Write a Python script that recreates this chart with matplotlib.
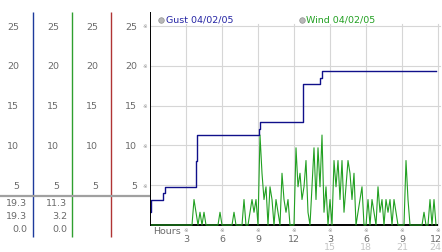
"""Gust / wind speed trace for 04/02/05, drawn in the style of a weather-station display."""

import matplotlib
matplotlib.use("Agg")
import matplotlib.pyplot as plt
import numpy as np

# --- data -----------------------------------------------------------------
gust_hours = [0, 0.05, 1.1, 1.25, 3.85, 3.95, 9.05, 9.15, 12.75, 14.2, 14.3, 23.85]
gust_mph = [1.6, 3.2, 4.0, 4.8, 8.1, 11.3, 12.1, 12.9, 17.7, 18.5, 19.3, 19.3]

# wind speed, one sample every 10 minutes (6 per hour)
wind_mph = [
    0, 0, 0, 0, 0, 0,            # 0h
    0, 0, 0, 0, 0, 0,            # 1h
    0, 0, 0, 0, 0, 0,            # 2h
    0, 0, 0, 0, 3.2, 1.6,        # 3h
    0, 1.6, 0, 1.6, 0, 0,        # 4h
    0, 0, 0, 0, 0, 1.6,          # 5h
    0, 0, 0, 0, 0, 0,            # 6h
    1.6, 0, 0, 0, 0, 3.2,        # 7h
    0, 0, 1.6, 3.2, 1.6, 3.2,    # 8h
    0, 11.3, 6.5, 3.2, 4.8, 0,   # 9h
    4.8, 3.2, 0, 3.2, 1.6, 0,    # 10h
    6.5, 3.2, 1.6, 3.2, 0, 0,    # 11h
    0, 9.7, 4.8, 6.5, 3.2, 4.8,  # 12h
    8.1, 1.6, 0, 4.8, 9.7, 3.2,  # 13h
    9.7, 4.8, 11.3, 1.6, 4.8, 0, # 14h
    3.2, 0, 8.1, 4.8, 8.1, 3.2,  # 15h
    8.1, 1.6, 4.8, 8.1, 6.5, 3.2,# 16h
    6.5, 0, 1.6, 3.2, 4.8, 0,    # 17h
    0, 3.2, 0, 3.2, 1.6, 0,      # 18h
    4.8, 1.6, 3.2, 0, 3.2, 1.6,  # 19h
    3.2, 0, 3.2, 1.6, 0, 0,      # 20h
    0, 0, 8.1, 3.2, 0, 0,        # 21h
    0, 0, 0, 0, 0, 1.6,          # 22h
    0, 0, 3.2, 0, 3.2, 0,        # 23h
]
wind_hours = np.arange(len(wind_mph)) / 6.0

y_ticks = [5, 10, 15, 20, 25]
x_ticks = [3, 6, 9, 12, 15, 18, 21, 24]
x_labels = ["3", "6", "9", "12", "3", "6", "9", "12"]
x_labels_24 = {15: "15", 18: "18", 21: "21", 24: "24"}
gust_stats = [19.3, 19.3, 0.0]
wind_stats = [11.3, 3.2, 0.0]
gust_label = "Gust 04/02/05"
wind_label = "Wind 04/02/05"

# --- layout helpers (pixel -> data) --------------------------------------
W, H = 442, 253
PX_PER_UNIT = 7.96
Y0 = 226  # pixel row of zero


def py(p):
    return (Y0 - p) / PX_PER_UNIT


def ph(p):
    return (p - 150) / 12.0


TXT = "#6a6a6a"
FS = 6.8
BLUE = "#1d3a9c"
GREEN = "#2f9f2f"
RED = "#b03434"

fig = plt.figure(figsize=(W / 100, H / 100), dpi=100)
ylim = (py(H), py(0))

# left panel: the scale columns
axl = fig.add_axes([0, 0, 150 / W, 1])
axl.set_xlim(0, 150)
axl.set_ylim(*ylim)
axl.axis("off")

for xpos, col in ((33, BLUE), (72, GREEN), (111, RED)):
    axl.plot([xpos, xpos], [py(238), py(13)], color=col, lw=1.0, solid_capstyle="butt")
axl.plot([0, 150], [py(197), py(197)], color="#a0a0a0", lw=1.6, solid_capstyle="butt")

for right in (19, 59, 98, 137):
    for v in y_ticks:
        axl.text(right, v, str(v), ha="right", va="center", fontsize=FS, color=TXT)

for right, stats in ((27, gust_stats), (67, wind_stats)):
    for row, v in zip((204, 217, 230), stats):
        axl.text(right, py(row), f"{v:.1f}", ha="right", va="center", fontsize=FS, color=TXT)

# main plot
ax = fig.add_axes([150 / W, 0, (W - 150) / W, 1])
ax.set_xlim(0, (W - 150) / 12.0)
ax.set_ylim(*ylim)
ax.axis("off")

for v in y_ticks:
    ax.plot([0, ph(440)], [v, v], color="#d6d6d6", lw=0.8, zorder=1)
    ax.text(ph(145), v, "※", ha="center", va="center", fontsize=4, color="#909090",
            clip_on=False)
for t in x_ticks:
    ax.plot([t, t], [0, 25.2], color="#d6d6d6", lw=0.8, zorder=1)

ax.plot(wind_hours, wind_mph, color="#22a022", lw=0.8, zorder=3)
ax.plot(gust_hours, gust_mph, color="#10108a", lw=1.0, drawstyle="steps-post", zorder=4)

ax.plot([0, 0], [py(227), py(13)], color="black", lw=1.4, zorder=5, solid_capstyle="butt")
ax.plot([0, 24], [0, 0], color="black", lw=1.4, zorder=2, solid_capstyle="butt")

for t, lab in zip(x_ticks, x_labels):
    # last column's labels sit a little inside the right edge
    tx = t if t < 24 else ph(435.5)
    ax.text(t, py(230.5), "※", ha="center", va="center", fontsize=4, color="#909090")
    ax.text(tx, py(239.5), lab, ha="center", va="center", fontsize=FS, color=TXT)
    if t in x_labels_24:
        ax.text(tx, py(248), x_labels_24[t], ha="center", va="center", fontsize=FS,
                color="#c4c4c4")
ax.text(ph(153), py(232), "Hours", ha="left", va="center", fontsize=FS, color=TXT)

# legend
for cx, tx, lab, col in ((161, 166, gust_label, "#2424a4"), (302, 306, wind_label, "#22a022")):
    ax.plot(ph(cx), py(20.5), "o", ms=4, color="#b8b8b8", mec="#909090", mew=0.5)
    ax.text(ph(tx), py(20.5), lab, ha="left", va="center", fontsize=FS, color=col)

fig.savefig("out.png", dpi=100)
